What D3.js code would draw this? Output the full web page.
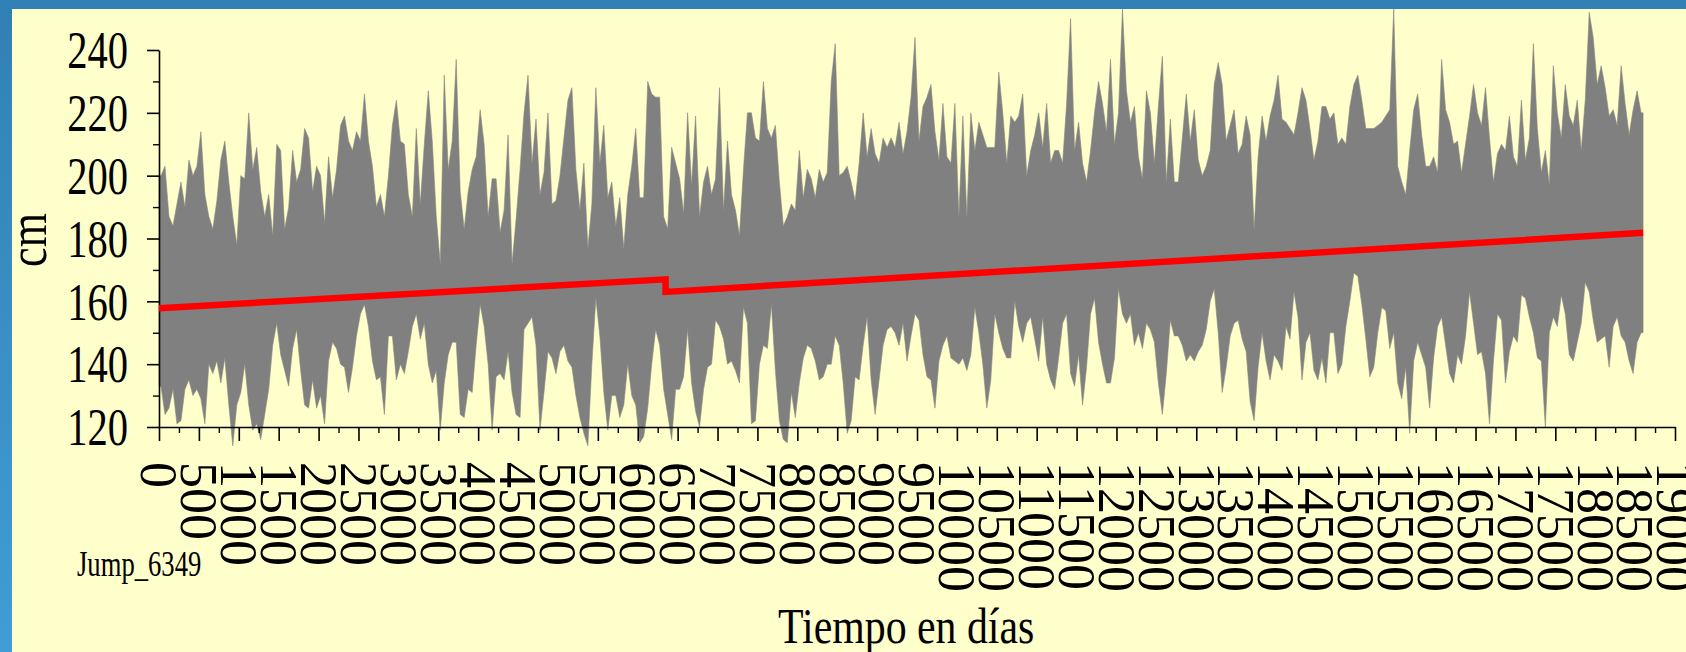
<!DOCTYPE html>
<html>
<head>
<meta charset="utf-8">
<script src="https://cdnjs.cloudflare.com/ajax/libs/d3/7.8.5/d3.min.js"></script>
<style>
html, body { margin: 0; padding: 0; }
body { width: 1686px; height: 652px; overflow: hidden; }
svg { display: block; }
</style>
</head>
<body>
<svg id="chart" width="1686" height="652"></svg>
<script>
// Serie diaria: máximo y mínimo aproximado cada 50 días
const binDays = 50;
const lastDay = 18600;

const hi = [
  200,203,187,184,191,198,190,205,200,203, 214,194,187,183,192,205,211,198,187,178,
  200,199,220,202,209,195,187,194,181,210, 208,183,190,208,198,202,215,212,195,203,
  200,185,206,193,202,216,219,211,208,214, 211,226,211,203,190,194,187,200,216,224,
  211,210,
  194,187,215,191,210,227,211,187,172,232, 202,211,237,195,183,195,202,206,221,210,
  187,199,199,182,189,213,172,186,202,220, 232,204,218,194,201,220,191,192,200,212,
  224,228,202,189,204,177,191,228,204,216, 193,198,184,193,177,194,203,215,193,193,
  230,226,
  225,225,187,183,209,204,199,188,220,197, 219,187,198,203,194,199,228,189,211,194,
  189,181,202,220,220,212,211,230,215,212, 216,198,184,187,191,189,208,193,202,199,
  193,202,198,201,230,242,200,201,203,198, 192,204,220,206,215,207,204,212,209,212,
  209,217,207,
  214,225,244,211,222,225,229,214,205,223, 206,204,223,187,219,187,220,208,217,213,
  209,209,209,233,220,204,219,217,219,226, 200,208,213,220,209,223,204,208,208,204,
  223,250,208,217,204,198,208,220,230,223, 214,237,210,220,253,227,217,222,206,199,
  227,220,204,
  222,238,198,218,198,198,212,226,211,221, 205,200,203,208,229,236,229,211,216,221,
  207,210,219,213,183,206,219,211,219,224, 232,218,217,215,213,220,228,224,215,205,
  211,222,222,218,220,210,212,210,222,229, 232,224,215,215,215,216,217,219,221,253,
  203,198,194,
  208,221,226,213,203,203,206,201,237,221, 217,210,211,201,210,219,229,220,216,228,
  212,198,207,210,208,219,206,203,224,205, 212,242,215,201,208,197,235,220,212,229,
  219,216,224,208,224,252,244,229,235,228, 219,221,216,235,223,213,221,227,220
];

const lo = [
  133,124,126,132,121,122,132,135,130,132, 129,121,140,137,141,134,142,127,114,127,
  131,140,127,119,121,116,124,132,146,153, 143,138,133,145,151,138,127,126,135,126,
  130,121,141,147,145,140,139,131,139,149, 156,159,152,141,135,136,124,149,149,135,
  140,137,
  144,152,156,148,153,140,134,138,119,134, 143,147,147,124,123,132,131,146,159,152,
  140,119,136,137,135,144,131,124,123,151, 153,155,146,119,131,144,142,137,144,146,
  141,139,130,123,118,114,140,161,149,131, 119,130,130,123,127,140,130,127,115,117,
  126,140,
  151,146,132,124,116,132,132,136,151,134, 125,120,132,139,140,154,152,148,140,141,
  138,134,158,153,121,122,140,146,145,159, 138,122,116,115,131,123,134,142,146,145,
  141,135,136,140,140,149,146,134,118,122, 136,135,146,155,135,124,135,146,151,152,
  150,146,153,
  141,149,156,154,143,136,135,126,141,146, 149,142,141,140,142,138,143,158,150,140,
  126,135,156,150,145,142,142,160,152,147, 153,155,148,141,155,140,135,132,142,153,
  156,137,133,143,127,139,156,161,147,140, 134,134,142,164,156,153,156,146,150,145,
  153,151,147,
  134,124,137,154,149,149,146,141,143,141, 144,146,151,160,164,150,131,139,149,153,
  154,148,144,128,122,139,150,141,135,143, 141,138,152,148,163,155,135,147,150,138,
  135,142,134,150,150,137,140,152,160,169, 168,159,148,136,139,150,158,157,145,150,
  134,129,139,
  118,141,147,143,139,126,142,152,155,146, 137,134,143,140,149,163,153,143,144,137,
  121,141,156,154,134,144,149,147,162,161, 155,150,142,141,120,150,155,152,162,156,
  143,141,147,153,166,163,154,147,148,149, 139,152,155,149,147,141,137,147,150
];

// Tendencia con salto
const trendDays = [0, 6349, 6349, 18600];
const trendCm = [157.8, 167.0, 163.0, 181.8];

const yTicks = [120, 140, 160, 180, 200, 220, 240];
const yMinor = [130, 150, 170, 190, 210, 230];
const xTicks = [0, 500, 1000, 1500, 2000, 2500, 3000, 3500, 4000, 4500, 5000, 5500,
  6000, 6500, 7000, 7500, 8000, 8500, 9000, 9500, 10000, 10500, 11000, 11500, 12000,
  12500, 13000, 13500, 14000, 14500, 15000, 15500, 16000, 16500, 17000, 17500, 18000,
  18500, 19000];
const xMinor = xTicks.slice(0, -1).map(d => d + 250);

const serif = "'Liberation Serif', 'Times New Roman', serif";
const svg = d3.select("#chart");

// Fondo azul y panel amarillo
const grad = svg.append("defs").append("linearGradient")
  .attr("id", "bg").attr("x1", 0).attr("y1", 0).attr("x2", 0).attr("y2", 1);
grad.append("stop").attr("offset", "0%").attr("stop-color", "#3180b5");
grad.append("stop").attr("offset", "100%").attr("stop-color", "#409dd5");
svg.append("rect").attr("width", 1686).attr("height", 652).attr("fill", "url(#bg)");
svg.append("rect").attr("x", 12).attr("y", 9).attr("width", 1674).attr("height", 643)
  .attr("fill", "#ffffcc");

let x = d3.scaleLinear().domain([0, 19000]).range([159, 1675]);
let y = d3.scaleLinear().domain([120, 240]).range([427, 50]);

// Puntos de la serie (centro de cada tramo de 50 días)
let pts = hi.map((h, i) => ({ day: i * binDays + binDays / 2, hi: h, lo: lo[i] }));
pts.unshift({ day: 0, hi: hi[0], lo: lo[0] });
pts.push({ day: lastDay, hi: hi[hi.length - 1], lo: lo[lo.length - 1] });

let area = d3.area()
  .x(d => x(d.day))
  .y0(d => y(d.lo))
  .y1(d => y(d.hi));

svg.append("path")
  .datum(pts)
  .attr("d", area)
  .attr("fill", "#808080")
  .attr("stroke", "#8a8a80")
  .attr("stroke-width", 0.6);

// Ejes
let gx = svg.append("g")
  .attr("transform", `translate(0,${y(120)})`)
  .call(d3.axisBottom(x).tickValues(xTicks).tickSize(14).tickSizeOuter(0).tickFormat(d3.format("d")))
  .attr("font-family", serif)
  .attr("font-size", 52);
gx.select(".domain").attr("stroke-width", 1.6);
gx.selectAll(".tick line").attr("stroke-width", 1.6);
gx.selectAll(".tick text")
  .attr("transform", "rotate(90)")
  .attr("x", 35)
  .attr("y", 0)
  .attr("dy", "0.35em")
  .attr("text-anchor", "start");

let gxm = svg.append("g")
  .attr("transform", `translate(0,${y(120)})`)
  .call(d3.axisBottom(x).tickValues(xMinor).tickSize(6).tickFormat(""));
gxm.select(".domain").remove();
gxm.selectAll(".tick line").attr("stroke-width", 1.4);

let gy = svg.append("g")
  .attr("transform", `translate(${x(0)},0)`)
  .call(d3.axisLeft(y).tickValues(yTicks).tickSize(12).tickSizeOuter(0))
  .attr("font-family", serif)
  .attr("font-size", 52);
gy.select(".domain").attr("stroke-width", 1.6);
gy.selectAll(".tick line").attr("stroke-width", 1.6);
gy.selectAll(".tick text")
  .attr("x", null)
  .attr("dy", "0.34em")
  .attr("transform", "translate(-31,0) scale(0.78,1)");

let gym = svg.append("g")
  .attr("transform", `translate(${x(0)},0)`)
  .call(d3.axisLeft(y).tickValues(yMinor).tickSize(6).tickFormat(""));
gym.select(".domain").remove();
gym.selectAll(".tick line").attr("stroke-width", 1.4);

// Linea de tendencia
let line = d3.line()
  .x((d, i) => x(trendDays[i]))
  .y(d => y(d));

svg.append("path")
  .datum(trendCm)
  .attr("d", line)
  .attr("fill", "none")
  .attr("stroke", "#ff0000")
  .attr("stroke-width", 6.5);

// Textos
svg.append("text")
  .attr("transform", "translate(46,240) rotate(-90) scale(0.8,1)")
  .attr("text-anchor", "middle")
  .attr("font-family", serif)
  .attr("font-size", 55)
  .text("cm");

svg.append("text")
  .attr("transform", "translate(77,576) scale(0.74,1)")
  .attr("font-family", serif)
  .attr("font-size", 36)
  .text("Jump_6349");

svg.append("text")
  .attr("transform", "translate(778,643) scale(0.82,1)")
  .attr("font-family", serif)
  .attr("font-size", 51)
  .text("Tiempo en días");
</script>
</body>
</html>
